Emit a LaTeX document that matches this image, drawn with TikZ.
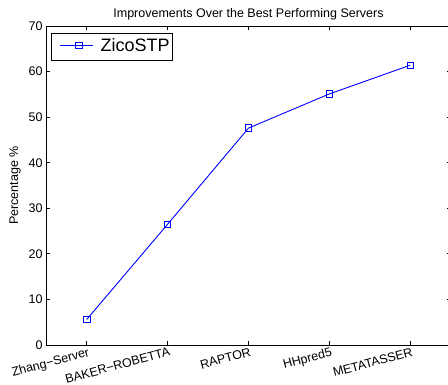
\documentclass[tikz,border=0pt]{standalone}
\usepackage{fontspec}
\setmainfont{Liberation Sans}
\usetikzlibrary{positioning}

\tikzset{
    axisline/.style={line width=1pt},
    tickmark/.style={line width=0.8pt},
    datamark/.style={draw=blue, rectangle, minimum size=6.5pt, inner sep=0pt, line width=0.8pt},
    plotline/.style={blue, line width=0.9pt},
    ticklabel/.style={font=\fontsize{12.5}{15}\selectfont, inner sep=0pt},
}

\begin{document}
\begin{tikzpicture}
    \useasboundingbox (0,0) rectangle (448pt,384pt);
    \begin{scope}[shift={(5.8pt,39pt)}, x=80.9pt, y=4.557pt]
    % Axes
    \draw[axisline] (0.5,0) rectangle (5.5,70);
    \foreach \y in {10,20,...,60} {
        \draw[tickmark] (0.5,\y) -- ++(4pt,0);
        \draw[tickmark] (5.5,\y) -- ++(-4pt,0);
    }
    \foreach \x in {1,...,5} {
        \draw[tickmark] (\x,0) -- ++(0,4pt);
        \draw[tickmark] (\x,70) -- ++(0,-4pt);
    }

    % Tick labels
    \foreach \y in {0,10,...,70}
        \node[ticklabel, anchor=east, xshift=-3.5pt] (yl\y) at (0.5,\y) {\y};
    \foreach \x/\name in {1/Zhang−Server, 2/BAKER−ROBETTA, 3/RAPTOR, 4/HHpred5, 5/METATASSER}
        \node[ticklabel, xshift=1pt, yshift=-2pt, anchor=north east, rotate=15] (xl\x) at (\x,0) {\name};

    % Title and axis label
    \node[ticklabel, anchor=base, yshift=8.5pt] (title) at (3,70) {Improvements Over the Best Performing Servers};
    \node[ticklabel, rotate=90] (ylab) at (0.114,35) {Percentage \%};

    % Data
    \node[datamark] (zhang) at (1,5.6) {};
    \node[datamark] (baker) at (2,26.5) {};
    \node[datamark] (raptor) at (3,47.6) {};
    \node[datamark] (hhpred) at (4,55.1) {};
    \node[datamark] (meta) at (5,61.4) {};
    \draw[plotline] (zhang.center) -- (baker.center) -- (raptor.center) -- (hhpred.center) -- (meta.center);
    \end{scope}

    % Legend
    \draw[axisline, fill=white] (51.7pt,323.3pt) rectangle (172.7pt,350.7pt);
    \coordinate (legA) at (60pt,338.7pt);
    \coordinate (legB) at (93pt,338.7pt);
    \draw[plotline] (legA) -- (legB);
    \node[datamark] (legmark) at (79pt,338.7pt) {};
    \node[font=\fontsize{18}{20}\selectfont, inner sep=0pt, right=7.5pt of legB] (legtext) {ZicoSTP};
\end{tikzpicture}
\end{document}
